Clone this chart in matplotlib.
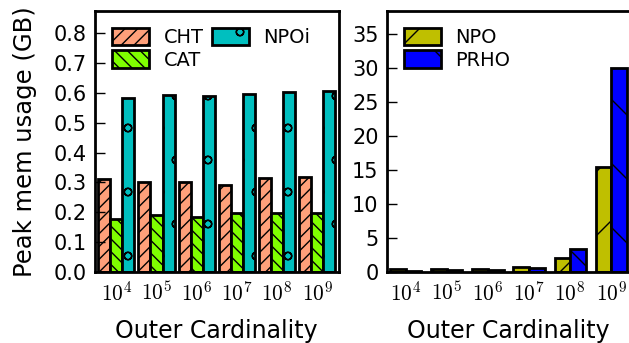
import numpy as np
import matplotlib
matplotlib.use("Agg")
import matplotlib.pyplot as plt
import matplotlib.hatch as mhatch

# ---------------- data ----------------
cardinality_exp = [4, 5, 6, 7, 8, 9]
tick_labels = [r"$10^{%d}$" % e for e in cardinality_exp]

cht = [0.310, 0.300, 0.300, 0.292, 0.316, 0.318]
cat = [0.177, 0.190, 0.184, 0.196, 0.198, 0.196]
npoi = [0.582, 0.594, 0.589, 0.598, 0.604, 0.606]

npo = [0.45, 0.45, 0.45, 0.70, 2.0, 15.4]
prho = [0.12, 0.18, 0.18, 0.55, 3.3, 30.0]

# ---------------- style ----------------
# render at a high dpi (coarse hatch cells) and scale every point size back
DPI = 192
S = 100.0 / DPI
mhatch.SmallCircles.size = 0.12

plt.rcParams["font.family"] = ["DejaVu Sans"]
plt.rcParams["mathtext.fontset"] = "cm"
plt.rcParams["hatch.linewidth"] = 1.0 * S
plt.rcParams["hatch.color"] = "black"

W, H = 629, 343
fig = plt.figure(figsize=(W / DPI, H / DPI), dpi=DPI)

def px_axes(x0, x1, ytop, ybot):
    return fig.add_axes([x0 / W, 1 - ybot / H, (x1 - x0) / W, (ybot - ytop) / H])

ax1 = px_axes(95, 338.5, 11, 271.7)
ax2 = px_axes(386.7, 630.2, 11, 271.7)

x = np.arange(len(cardinality_exp))
lw = 2.0 * S

# left panel
w1 = 0.3
ax1.bar(x - w1, cht, w1, color="lightsalmon", edgecolor="black", linewidth=lw,
        hatch="/////", label="CHT")
ax1.bar(x, cat, w1, color="#7FFF00", edgecolor="black", linewidth=lw,
        hatch="\\\\\\\\\\", label="CAT")
ax1.bar(x + w1, npoi, w1, color="c", edgecolor="black", linewidth=lw,
        hatch="o", label="NPOi")
ax1.set_xlim(-0.53, 5.53)
ax1.set_ylim(0, 0.875)
yt1 = np.arange(0, 0.81, 0.1)
ax1.set_yticks(yt1)
ax1.set_yticklabels(["%.1f" % v for v in yt1])

# right panel
w2 = 0.38
ax2.bar(x - w2 / 2, npo, w2, color="y", edgecolor="black", linewidth=lw,
        hatch="/", label="NPO")
ax2.bar(x + w2 / 2, prho, w2, color="b", edgecolor="black", linewidth=lw,
        hatch="\\", label="PRHO")
ax2.set_xlim(-0.46, 5.46)
ax2.set_ylim(0, 38.4)
ax2.set_yticks(np.arange(0, 36, 5))

for ax, ncol in ((ax1, 2), (ax2, 1)):
    ax.set_xticks(x)
    ax.set_xticklabels(tick_labels)
    ax.tick_params(axis="x", length=0, pad=6.5 * S, labelsize=15.5 * S)
    ax.tick_params(axis="y", direction="in", length=7 * S, width=1 * S, pad=5.8 * S,
                   labelsize=15 * S, left=True, right=False)
    for s in ax.spines.values():
        s.set_linewidth(2 * S)
    ax.set_xlabel("Outer Cardinality", fontsize=17 * S)
    ax.xaxis.set_label_coords(0.5, -0.181)
    ax.legend(loc="upper left", bbox_to_anchor=(0.039, 0.965), borderaxespad=0,
              frameon=False, fontsize=14 * S, ncol=ncol, handlelength=1.9,
              handleheight=1.0, handletextpad=0.75, labelspacing=0.15,
              columnspacing=0.4)

ax1.set_ylabel("Peak mem usage (GB)", fontsize=17.5 * S)
ax1.yaxis.set_label_coords(-0.24, 0.5)

fig.savefig("out.png", dpi=DPI)
